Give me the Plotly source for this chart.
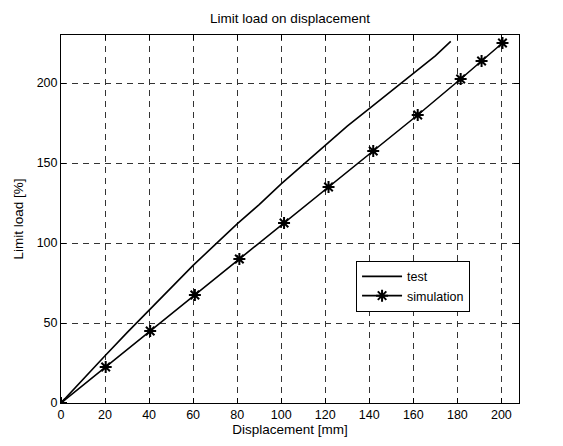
import plotly.graph_objects as go

# ---- data ----
test_x = [0, 10, 20, 30, 40, 50, 60, 70, 80, 90, 100, 110, 120, 130, 140, 150, 160, 170, 177]
test_y = [0, 15, 29.5, 44, 58, 72, 86, 99, 112, 124, 137, 149, 161, 173, 184, 195, 206, 217, 226]

sim_x = [0, 20.3, 40.5, 60.8, 81, 101.3, 121.5, 141.8, 162, 181.5, 191, 200.5]
sim_y = [0, 22.5, 45, 67.5, 90, 112.5, 135, 157.5, 180, 202.5, 213.75, 225]

x_ticks = [0, 20, 40, 60, 80, 100, 120, 140, 160, 180, 200]
y_ticks = [0, 50, 100, 150, 200]

FONT = "Liberation Sans, Arial, sans-serif"

fig = go.Figure()
fig.add_trace(go.Scatter(x=test_x, y=test_y, mode="lines", name="test",
                         line=dict(color="black", width=1.6)))
fig.add_trace(go.Scatter(x=sim_x, y=sim_y, mode="lines+markers", name="simulation",
                         line=dict(color="black", width=1.6),
                         marker=dict(symbol="asterisk-open", size=10,
                                     line=dict(color="black", width=2))))

axis_common = dict(showline=True, mirror="ticks", linecolor="black", linewidth=1,
                   ticks="inside", ticklen=5, tickcolor="black",
                   showgrid=True, gridcolor="#333333", gridwidth=0.8,
                   griddash="6px,5px", zeroline=False,
                   tickfont=dict(family=FONT, size=12.5, color="black"))

fig.update_xaxes(range=[0, 208], tickvals=x_ticks,
                 title=dict(text="Displacement [mm]", font=dict(family=FONT, size=13.5, color="black"),
                            standoff=3),
                 **axis_common)
fig.update_yaxes(range=[0, 230], tickvals=y_ticks,
                 title=dict(text="Limit load [%]", font=dict(family=FONT, size=13.5, color="black"),
                            standoff=9),
                 **axis_common)

fig.update_layout(
    width=563, height=446,
    margin=dict(l=61, r=44, t=35, b=41),
    paper_bgcolor="white", plot_bgcolor="white",
    title=dict(text="Limit load on displacement", x=290 / 563, xanchor="center",
               y=1 - 18 / 446, yanchor="middle",
               font=dict(family=FONT, size=13.5, color="black")),
    showlegend=True,
    legend=dict(x=134 / 208, y=(405 - 262) / 370, xanchor="left", yanchor="top",
                bgcolor="white", bordercolor="black", borderwidth=1,
                font=dict(family=FONT, size=12.5, color="black"),
                itemwidth=40, tracegroupgap=2),
)

fig.write_html("out.html")
